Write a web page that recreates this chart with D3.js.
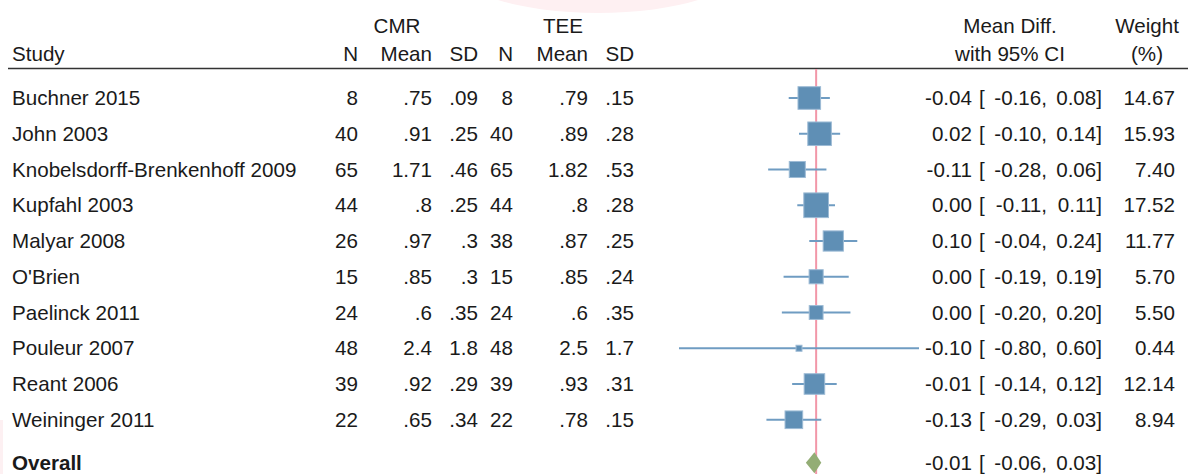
<!DOCTYPE html>
<html>
<head>
<meta charset="utf-8">
<script src="https://cdn.jsdelivr.net/npm/d3@7"></script>
<style>
  body { margin: 0; background: #fff; }
  svg text { font-family: "Liberation Sans", Arial, Helvetica, sans-serif; font-size: 20.6px; fill: #1a1a1a; }
</style>
</head>
<body>
<div id="chart"></div>
<script>
// study table
let studies = ["Buchner 2015", "John 2003", "Knobelsdorff-Brenkenhoff 2009", "Kupfahl 2003",
  "Malyar 2008", "O'Brien", "Paelinck 2011", "Pouleur 2007", "Reant 2006", "Weininger 2011"];
let nCMR = [8, 40, 65, 44, 26, 15, 24, 48, 39, 22];
let meanCMR = [0.75, 0.91, 1.71, 0.8, 0.97, 0.85, 0.6, 2.4, 0.92, 0.65];
let sdCMR = [0.09, 0.25, 0.46, 0.25, 0.3, 0.3, 0.35, 1.8, 0.29, 0.34];
let nTEE = [8, 40, 65, 44, 38, 15, 24, 48, 39, 22];
let meanTEE = [0.79, 0.89, 1.82, 0.8, 0.87, 0.85, 0.6, 2.5, 0.93, 0.78];
let sdTEE = [0.15, 0.28, 0.53, 0.28, 0.25, 0.24, 0.35, 1.7, 0.31, 0.15];
let meanDiff = [-0.04, 0.02, -0.11, 0.00, 0.10, 0.00, 0.00, -0.10, -0.01, -0.13];
let ciLow = [-0.16, -0.10, -0.28, -0.11, -0.04, -0.19, -0.20, -0.80, -0.14, -0.29];
let ciHigh = [0.08, 0.14, 0.06, 0.11, 0.24, 0.19, 0.20, 0.60, 0.12, 0.03];
let weights = [14.67, 15.93, 7.40, 17.52, 11.77, 5.70, 5.50, 0.44, 12.14, 8.94];
let overall = { md: -0.01, lo: -0.06, hi: 0.03 };

let width = 1188, height = 474;

let svg = d3.select("#chart").append("svg")
  .attr("width", width)
  .attr("height", height);

// faint pink smudges seen on the reference
svg.append("ellipse")
  .attr("cx", 598).attr("cy", -34).attr("rx", 145).attr("ry", 47)
  .attr("fill", "#fef0f2");
svg.append("rect")
  .attr("x", 0).attr("y", 420).attr("width", 3).attr("height", 54)
  .attr("fill", "#fdf0f2");

// scales
let x = d3.scaleLinear().domain([-0.8, 0.6]).range([679, 919]);
let y = d3.scaleLinear().domain([0, 9]).range([98, 419.75]);
let yOverall = y(10.2);

let fmtMean = v => String(v).replace(/^0\./, ".");
let fmt2 = v => (v === 0 ? "0.00" : v.toFixed(2));

// header
let header = svg.append("g");
header.append("text").attr("x", 397).attr("y", 33).attr("text-anchor", "middle").text("CMR");
header.append("text").attr("x", 563).attr("y", 33).attr("text-anchor", "middle").text("TEE");
header.append("text").attr("x", 1010).attr("y", 33).attr("text-anchor", "middle").text("Mean Diff.");
header.append("text").attr("x", 1147).attr("y", 33).attr("text-anchor", "middle").text("Weight");
header.append("text").attr("x", 12).attr("y", 61).text("Study");
header.append("text").attr("x", 1010).attr("y", 61).attr("text-anchor", "middle").text("with 95% CI");
header.append("text").attr("x", 1147).attr("y", 61).attr("text-anchor", "middle").text("(%)");

let cols = [
  { x: 358, label: "N", vals: nCMR.map(String) },
  { x: 432, label: "Mean", vals: meanCMR.map(fmtMean) },
  { x: 478, label: "SD", vals: sdCMR.map(fmtMean) },
  { x: 513, label: "N", vals: nTEE.map(String) },
  { x: 588, label: "Mean", vals: meanTEE.map(fmtMean) },
  { x: 634, label: "SD", vals: sdTEE.map(fmtMean) }
];
cols.forEach(c => {
  header.append("text").attr("x", c.x).attr("y", 61).attr("text-anchor", "end").text(c.label);
});

svg.append("line")
  .attr("x1", 8).attr("x2", width)
  .attr("y1", 68.5).attr("y2", 68.5)
  .attr("stroke", "#333").attr("stroke-width", 1.6);

// zero reference line
svg.append("line")
  .attr("x1", x(0)).attr("x2", x(0))
  .attr("y1", 69).attr("y2", height)
  .attr("stroke", "#f297a8").attr("stroke-width", 2);

// rows of text
let rows = svg.append("g").selectAll("g")
  .data(studies)
  .enter().append("g")
  .attr("transform", (d, i) => `translate(0, ${y(i) + 7})`);

rows.append("text").attr("x", 12).text(d => d);
cols.forEach(c => {
  rows.append("text").attr("x", c.x).attr("text-anchor", "end").text((d, i) => c.vals[i]);
});
rows.append("text").attr("x", 972).attr("text-anchor", "end").text((d, i) => fmt2(meanDiff[i]));
rows.append("text").attr("x", 979).text("[");
rows.append("text").attr("x", 1047).attr("text-anchor", "end").text((d, i) => fmt2(ciLow[i]) + ",");
rows.append("text").attr("x", 1102).attr("text-anchor", "end").text((d, i) => fmt2(ciHigh[i]) + "]");
rows.append("text").attr("x", 1175).attr("text-anchor", "end").text((d, i) => weights[i].toFixed(2));

// confidence intervals
svg.append("g").selectAll("line")
  .data(studies)
  .enter().append("line")
  .attr("x1", (d, i) => x(ciLow[i]))
  .attr("x2", (d, i) => x(ciHigh[i]))
  .attr("y1", (d, i) => y(i))
  .attr("y2", (d, i) => y(i))
  .attr("stroke", "#6f9cc2")
  .attr("stroke-width", 1.8);

// weight boxes
let side = w => Math.max(6, 5.9 * Math.sqrt(w));
svg.append("g").selectAll("rect")
  .data(studies)
  .enter().append("rect")
  .attr("x", (d, i) => x(meanDiff[i]) - side(weights[i]) / 2)
  .attr("y", (d, i) => y(i) - side(weights[i]) / 2)
  .attr("width", (d, i) => side(weights[i]))
  .attr("height", (d, i) => side(weights[i]))
  .attr("fill", "#5f8fb5")
  .attr("stroke", "#9dbbd5")
  .attr("stroke-width", 1);

// overall
svg.append("path")
  .attr("d", `M${x(overall.lo)},${yOverall} L${x(overall.md)},${yOverall - 10.5} L${x(overall.hi)},${yOverall} L${x(overall.md)},${yOverall + 10.5} Z`)
  .attr("fill", "#93ad75");

let ov = svg.append("g").attr("transform", `translate(0, ${yOverall + 7})`);
ov.append("text").attr("x", 12).attr("font-weight", "bold").text("Overall");
ov.append("text").attr("x", 972).attr("text-anchor", "end").text(fmt2(overall.md));
ov.append("text").attr("x", 979).text("[");
ov.append("text").attr("x", 1047).attr("text-anchor", "end").text(fmt2(overall.lo) + ",");
ov.append("text").attr("x", 1102).attr("text-anchor", "end").text(fmt2(overall.hi) + "]");
</script>
</body>
</html>
